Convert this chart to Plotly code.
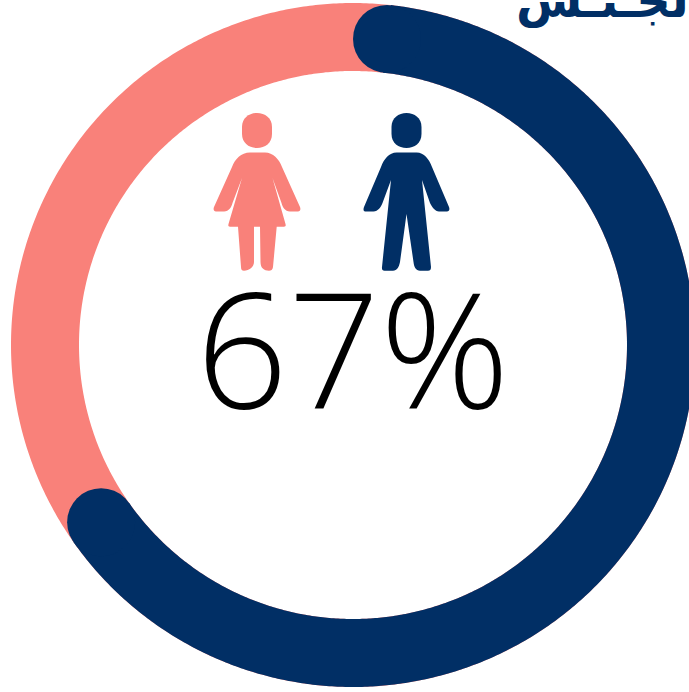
import numpy as np
import plotly.graph_objects as go

# Data
categories = ["الرجال", "النساء"]
shares = [67, 33]
centre_label = "67%"
heading = "الجـنـس"

W, H = 689, 692
NAVY = "#012F65"
SALMON = "#F9817A"
CX, CY = 353, 345
R_MID, RING = 308, 68

def ring_xy(start_deg, end_deg, n=400):
    a = np.radians(np.linspace(start_deg, end_deg, n))
    return CX + R_MID * np.sin(a), CY - R_MID * np.cos(a)

cap_deg = np.degrees(np.arcsin((RING / 2) / R_MID))
end_deg = shares[0] / sum(shares) * 360

HEAD = ("M{c} 113 C{r1} 113 {r} 118 {r} 127 L{r} 134 C{r} 143 {r1} 148 {c} 148 "
        "C{l1} 148 {l} 143 {l} 134 L{l} 127 C{l} 118 {l1} 113 {c} 113 Z")
WOMAN = ("M250 152.5 L265 152.5 C273 152.5 279 159 282 167 L300 207 C301 210 300 211.5 298 211.5 "
         "L290 211.5 C285 211.5 282.5 207 281.5 203 L272.5 178 L285.5 224 C286 226 285.5 226.7 284 226.7 "
         "L276.7 226.7 L273 267 C272.7 270 271 270.7 269 270.7 C264 270.7 260.5 268 260.5 262 "
         "L260 226.7 L254 226.7 L254 262 C254 267 249 270.7 244 270.7 C242 270.7 241 270 241 267 "
         "L238 226.7 L230 226.7 C228.5 226.7 228 226 228.5 224 L242 178 L232.5 203 "
         "C231.5 207 229 211.5 224 211.5 L216 211.5 C214 211.5 213 210 214 207 L232 167 "
         "C235 159 241 152.5 250 152.5 Z")
MAN = ("M396.7 152.5 L416.7 152.5 C424 152.5 429 159 432 167 L449 207 C450 210 449 211.5 447 211.5 "
       "L439 211.5 C435 211.5 432 207 430 203 L422 180 L431 267 C431 270 430 270.7 428 270.7 "
       "L420 270.7 C416 270.7 414 267 413.5 262 L406.5 214 L400 262 C399 267 397 270.7 393 270.7 "
       "L384.5 270.7 C382.5 270.7 381.7 270 382 267 L391 180 L382.5 203 C381 207 378 211.5 373.5 211.5 "
       "L366 211.5 C363.5 211.5 363 210 364 207 L381 167 C384 159 389 152.5 396.7 152.5 Z")

def head(c):
    return HEAD.format(c=c, l=c - 15, r=c + 15, l1=c - 8, r1=c + 8)

shapes = [
    dict(type="path", path=p, xref="x", yref="y", fillcolor=col, line=dict(width=0), layer="above")
    for p, col in [(head(257), SALMON), (WOMAN, SALMON), (head(406.5), NAVY), (MAN, NAVY)]
]

fig = go.Figure()
rx, ry = ring_xy(180, 540, 720)
fig.add_trace(go.Scatter(x=rx, y=ry, mode="lines", name=categories[1],
                         line=dict(color=SALMON, width=RING, simplify=False), hoverinfo="skip"))
ax, ay = ring_xy(cap_deg, end_deg - cap_deg, 500)
fig.add_trace(go.Scatter(x=ax, y=ay, mode="lines", name=categories[0],
                         line=dict(color=NAVY, width=RING, simplify=False), hoverinfo="skip"))
fig.add_trace(go.Scatter(x=[ax[0], ax[-1]], y=[ay[0], ay[-1]], mode="markers", name=categories[0],
                         marker=dict(color=NAVY, size=RING, line=dict(width=0)), hoverinfo="skip"))

fig.update_layout(
    width=W, height=H, autosize=False, showlegend=False,
    margin=dict(l=0, r=0, t=0, b=0),
    paper_bgcolor="white", plot_bgcolor="white",
    xaxis=dict(range=[0, W], visible=False, fixedrange=True),
    yaxis=dict(range=[H, 0], visible=False, fixedrange=True),
    shapes=shapes,
    annotations=[
        dict(x=352.5, y=345, xref="x", yref="y", text=centre_label, showarrow=False,
             xanchor="center", yanchor="middle",
             font=dict(family="Open Sans", size=161, color="black", weight=300)),
        dict(x=688, y=30, xref="x", yref="y", text=heading, showarrow=False,
             xanchor="right", yanchor="bottom", xshift=19,
             font=dict(family="DejaVu Sans", size=48, color=NAVY, weight="bold")),
    ],
)
fig.write_html("out.html", config=dict(displayModeBar=False),
               post_script="document.body.style.margin='0';document.documentElement.style.overflow='hidden';")
